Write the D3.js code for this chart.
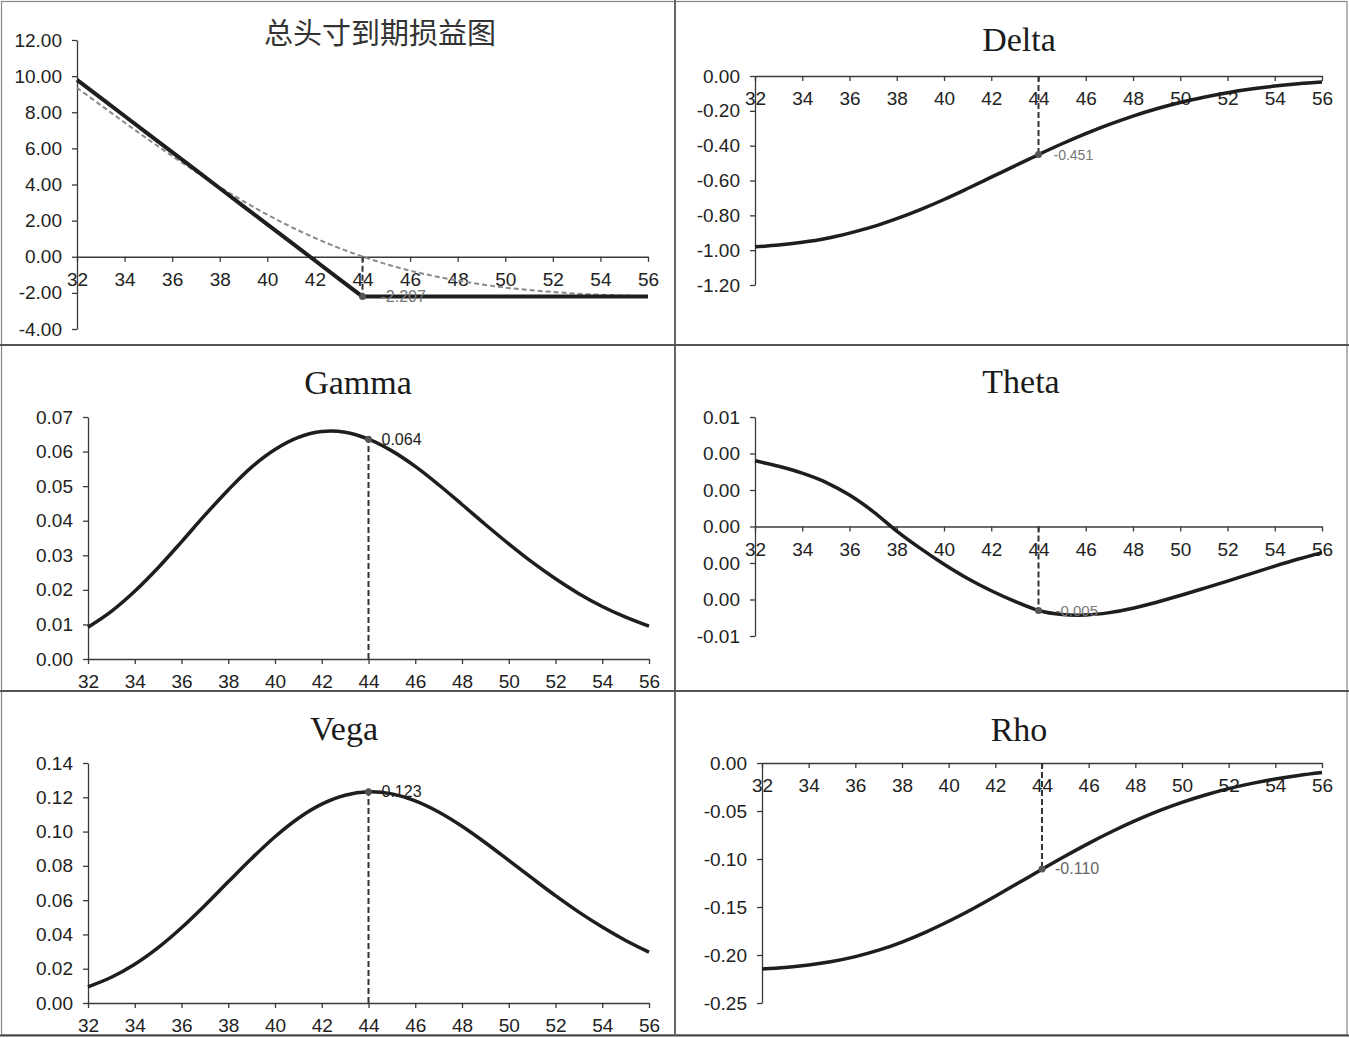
<!DOCTYPE html>
<html><head><meta charset="utf-8">
<script src="https://cdn.jsdelivr.net/npm/d3@7"></script>
<style>body{margin:0;background:#fff} svg{display:block}</style>
</head><body><svg id="c" width="1349" height="1038"></svg>
<script>
// ---------------- data ----------------
const strikes = [32,33,34,35,36,37,38,39,40,41,42,43,44,45,46,47,48,49,50,51,52,53,54,55,56];
const xTickValues = [32,34,36,38,40,42,44,46,48,50,52,54,56];
const titles = ["总头寸到期损益图","Delta","Gamma","Theta","Vega","Rho"];

const pnlExpiry  = [9.793,8.793,7.793,6.793,5.793,4.793,3.793,2.793,1.793,0.793,-0.207,-1.207,-2.207,-2.207,-2.207,-2.207,-2.207,-2.207,-2.207,-2.207,-2.207,-2.207,-2.207,-2.207,-2.207];
const pnlCurrent = [9.36,8.39,7.43,6.49,5.58,4.70,3.86,3.07,2.33,1.65,1.04,0.49,0.01,-0.41,-0.77,-1.07,-1.32,-1.53,-1.71,-1.84,-1.95,-2.04,-2.10,-2.15,-2.19];
const deltaVals  = [-0.981,-0.971,-0.955,-0.933,-0.902,-0.865,-0.819,-0.767,-0.709,-0.646,-0.581,-0.516,-0.451,-0.389,-0.331,-0.278,-0.230,-0.188,-0.152,-0.122,-0.096,-0.075,-0.058,-0.044,-0.034];
const gammaVals  = [0.0092,0.0138,0.0196,0.0264,0.0339,0.0416,0.0489,0.0555,0.0606,0.0641,0.0658,0.0656,0.0636,0.0602,0.0557,0.0504,0.0447,0.0389,0.0333,0.0280,0.0232,0.0189,0.0152,0.0121,0.0095];
const thetaVals  = [0.0036,0.0033,0.00292,0.00242,0.00172,0.00082,-0.00025,-0.0012,-0.00207,-0.00285,-0.00352,-0.0041,-0.0046,-0.00482,-0.00485,-0.00472,-0.00448,-0.00415,-0.00378,-0.00339,-0.00299,-0.00258,-0.00217,-0.00178,-0.00143];
const vegaVals   = [0.0094,0.0150,0.0226,0.0323,0.0439,0.0569,0.0707,0.0843,0.0970,0.1078,0.1160,0.1212,0.1232,0.1220,0.1179,0.1114,0.1031,0.0935,0.0832,0.0728,0.0626,0.0530,0.0443,0.0365,0.0297];
const rhoVals    = [-0.2145,-0.2130,-0.2105,-0.2068,-0.2017,-0.1950,-0.1865,-0.1764,-0.1649,-0.1523,-0.1388,-0.1248,-0.1107,-0.0969,-0.0837,-0.0714,-0.0601,-0.0499,-0.0410,-0.0333,-0.0267,-0.0212,-0.0167,-0.0130,-0.0100];

const pnlTicks   = [-4,-2,0,2,4,6,8,10,12];
const deltaTicks = [-1.2,-1.0,-0.8,-0.6,-0.4,-0.2,0];
const gammaTicks = [0,0.01,0.02,0.03,0.04,0.05,0.06,0.07];
const thetaTicks = [-0.006,-0.004,-0.002,0,0.002,0.004,0.006];
const vegaTicks  = [0,0.02,0.04,0.06,0.08,0.10,0.12,0.14];
const rhoTicks   = [-0.25,-0.20,-0.15,-0.10,-0.05,0];

const markerStrike = 44;
const markerValues = [-2.207,-0.451,0.0636,-0.0046,0.1232,-0.1104];

// ---------------- drawing ----------------
const svg = d3.select("#c");
svg.append("rect").attr("width",1349).attr("height",1038).attr("fill","#fff");

const fmtN = d => v => { const s = Math.abs(v).toFixed(d); return (v < 0 && +s !== 0 ? "-" : "") + s; };
const fmt2 = fmtN(2), fmt3 = fmtN(3);
const smooth = d3.curveCatmullRom.alpha(0.5);

const panels = [
  {title:titles[0], cjk:true, tx:380, ty:31, x0:77, x1:648, yTop:40, yBot:329, ticks:pnlTicks,
   series:[{v:pnlCurrent, dash:"5,3", color:"#8a8a8a", w:2, curve:smooth},
           {v:pnlExpiry, color:"#1e1e1e", w:4, curve:d3.curveLinear}], mv:markerValues[0], lsize:16, lcolor:"#777", ldx:18},
  {title:titles[1], tx:1019, ty:51, x0:755, x1:1322, yTop:76, yBot:285, ticks:deltaTicks,
   series:[{v:deltaVals}], mv:markerValues[1], lsize:14, lcolor:"#777", ldx:15},
  {title:titles[2], tx:358, ty:394, x0:88, x1:649, yTop:417, yBot:659, ticks:gammaTicks,
   series:[{v:gammaVals}], mv:markerValues[2], lsize:16, lcolor:"#222", ldx:13},
  {title:titles[3], tx:1021, ty:393, x0:755, x1:1322, yTop:417, yBot:636, ticks:thetaTicks,
   series:[{v:thetaVals}], mv:markerValues[3], lsize:15, lcolor:"#777", ldx:17},
  {title:titles[4], tx:344, ty:740, x0:88, x1:649, yTop:763, yBot:1003, ticks:vegaTicks,
   series:[{v:vegaVals}], mv:markerValues[4], lsize:16, lcolor:"#222", ldx:13},
  {title:titles[5], tx:1019, ty:741, x0:762, x1:1322, yTop:763, yBot:1003, ticks:rhoTicks,
   series:[{v:rhoVals}], mv:markerValues[5], lsize:16, lcolor:"#666", ldx:13}
];

panels.forEach(p => {
  const g = svg.append("g");
  const x = d3.scaleLinear().domain([strikes[0], strikes[strikes.length-1]]).range([p.x0, p.x1]);
  const y = d3.scaleLinear().domain(d3.extent(p.ticks)).range([p.yBot, p.yTop]);

  // title
  const t = g.append("text").attr("x", p.tx).attr("y", p.ty).attr("text-anchor","middle").text(p.title);
  if (p.cjk) {
    t.attr("font-family","'Noto Sans CJK SC'").attr("font-size",29).attr("fill","#333").attr("dominant-baseline","central");
  } else {
    t.attr("font-family","'Liberation Serif', 'DejaVu Serif', serif").attr("font-size",34).attr("fill","#1a1a1a");
  }

  // axes
  const ya = g.append("g").attr("transform",`translate(${p.x0},0)`)
    .call(d3.axisLeft(y).tickValues(p.ticks).tickFormat(fmt2).tickSize(5).tickSizeOuter(0).tickPadding(10));
  const xa = g.append("g").attr("transform",`translate(0,${y(0)})`)
    .call(d3.axisBottom(x).tickValues(xTickValues).tickFormat(d3.format("d")).tickSize(5).tickSizeOuter(0).tickPadding(11));
  [ya, xa].forEach(a => {
    a.attr("font-family","'Liberation Sans', Arial, sans-serif").attr("font-size",19);
    a.selectAll("path,line").attr("stroke","#3a3a3a").attr("stroke-width",1.3);
    a.selectAll("text").attr("fill","#222");
  });

  // dashed vertical reference
  g.append("line")
    .attr("x1", x(markerStrike)).attr("x2", x(markerStrike))
    .attr("y1", y(0)).attr("y2", y(p.mv))
    .attr("stroke","#333").attr("stroke-width",2).attr("stroke-dasharray","6,3");

  // series
  p.series.forEach(s => {
    const line = d3.line().x((d,i) => x(strikes[i])).y(d => y(d)).curve(s.curve || smooth);
    g.append("path").datum(s.v).attr("d", line).attr("fill","none")
      .attr("stroke", s.color || "#1e1e1e").attr("stroke-width", s.w || 3.5)
      .attr("stroke-dasharray", s.dash || null).attr("stroke-linejoin","round");
  });

  // marker + label
  g.append("circle").attr("cx", x(markerStrike)).attr("cy", y(p.mv)).attr("r",3.5).attr("fill","#555");
  g.append("text").attr("x", x(markerStrike) + p.ldx).attr("y", y(p.mv))
    .attr("dominant-baseline","central").attr("font-family","'Liberation Sans', Arial, sans-serif")
    .attr("font-size", p.lsize).attr("fill", p.lcolor).text(fmt3(p.mv));
});

// panel borders
const borders = svg.append("g").attr("fill","none");
borders.append("rect").attr("x",1.5).attr("y",1.5).attr("width",1345.5).attr("height",1033.5)
  .attr("stroke","#888").attr("stroke-width",1.2);
borders.append("line").attr("x1",0).attr("x2",1349).attr("y1",1035.5).attr("y2",1035.5).attr("stroke","#444").attr("stroke-width",2);
borders.append("line").attr("x1",675).attr("x2",675).attr("y1",0).attr("y2",1036).attr("stroke","#666").attr("stroke-width",2);
borders.append("line").attr("x1",0).attr("x2",1349).attr("y1",345).attr("y2",345).attr("stroke","#555").attr("stroke-width",2);
borders.append("line").attr("x1",0).attr("x2",1349).attr("y1",691).attr("y2",691).attr("stroke","#555").attr("stroke-width",2);
</script>
</body></html>
